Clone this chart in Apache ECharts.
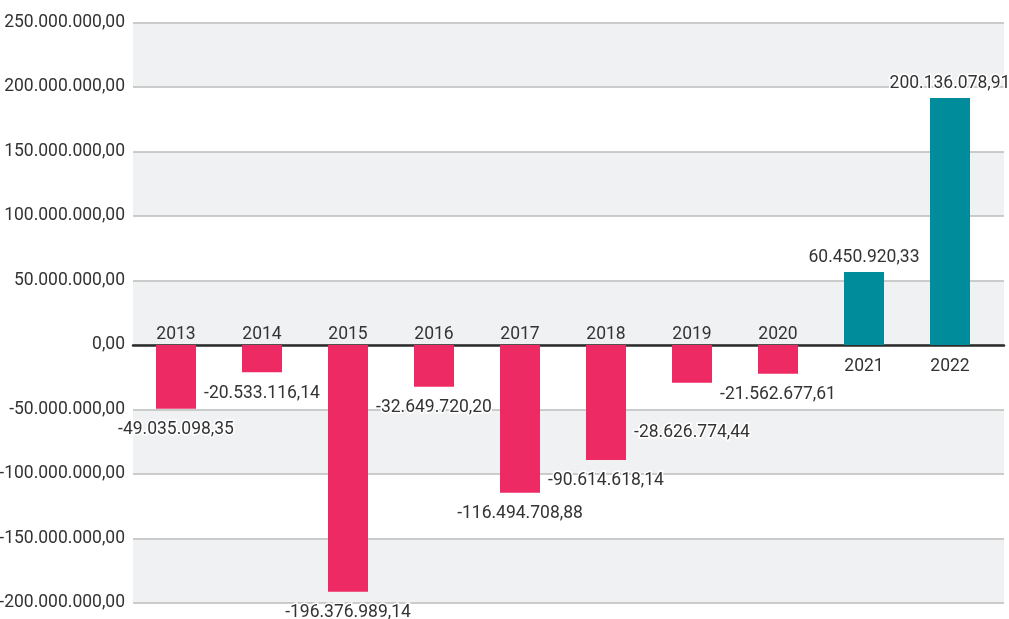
<!DOCTYPE html>
<html>
<head>
<meta charset="utf-8">
<script src="https://cdn.jsdelivr.net/npm/echarts@6/dist/echarts.min.js"></script>
<style>
  html, body { margin: 0; padding: 0; background: #fff; }
  #main { width: 1009px; height: 619px; }
</style>
</head>
<body>
<div id="main"></div>
<script>
// data
var years = ['2013', '2014', '2015', '2016', '2017', '2018', '2019', '2020', '2021', '2022'];
// bar heights as drawn
var values = [-49.4e6, -21.2e6, -191.2e6, -32.3e6, -114.5e6, -89.1e6, -29.2e6, -22.2e6, 56.6e6, 191.5e6];
// value labels as printed
var valueLabels = ['-49.035.098,35', '-20.533.116,14', '-196.376.989,14', '-32.649.720,20', '-116.494.708,88',
                   '-90.614.618,14', '-28.626.774,44', '-21.562.677,61', '60.450.920,33', '200.136.078,91'];
var yMin = -200e6, yMax = 250e6, yStep = 50e6;

var FONT = 'Roboto, sans-serif';
var FS = 17.5;
var TEXT = '#333';
var PINK = '#ee2a64', TEAL = '#008c9a';

function fmt(v) {
    var s = Math.abs(v).toFixed(0).replace(/\B(?=(\d{3})+(?!\d))/g, '.');
    return (v < 0 ? '-' : '') + s + ',00';
}

var barData = values.map(function (v, i) {
    var item = {
        value: v,
        itemStyle: { color: v < 0 ? PINK : TEAL },
        label: { formatter: valueLabels[i], distance: v < 0 ? 12 : 5.5 }
    };
    if (years[i] === '2019') item.label.distance = 41; // pushed lower in the original
    return item;
});

var yearData = years.map(function (y, i) {
    var neg = values[i] < 0;
    return {
        value: [i, 0],
        label: { position: neg ? 'top' : 'bottom', distance: neg ? 1 : 12.5 }
    };
});

var chart = echarts.init(document.getElementById('main'));
chart.setOption({
    animation: false,
    textStyle: { fontFamily: FONT },
    grid: [
        { left: 133, right: 5, top: 22.5, bottom: 16, outerBoundsMode: 'none' },   // background bands
        { left: 133, right: 16, top: 22.5, bottom: 16, outerBoundsMode: 'none' }   // bars
    ],
    xAxis: [
        {
            gridIndex: 0, type: 'value', min: 0, max: 1,
            axisLine: { show: true, onZero: true, lineStyle: { color: '#2b2b2b', width: 2.5 } },
            axisTick: { show: false }, axisLabel: { show: false }, splitLine: { show: false }
        },
        {
            gridIndex: 1, type: 'category', data: years, show: false
        }
    ],
    yAxis: [
        {
            gridIndex: 0, type: 'value', min: yMin, max: yMax, interval: yStep,
            axisLine: { show: false }, axisTick: { show: false },
            axisLabel: { formatter: fmt, color: TEXT, fontSize: FS, fontFamily: FONT, margin: 8 },
            splitLine: { lineStyle: { color: '#bdbdbd', width: 1.5 } },
            splitArea: { show: true, areaStyle: { color: ['#f0f1f3', '#ffffff'] } }
        },
        {
            gridIndex: 1, type: 'value', min: yMin, max: yMax, interval: yStep, show: false
        }
    ],
    series: [
        {
            type: 'bar',
            xAxisIndex: 1, yAxisIndex: 1,
            barWidth: 40,
            data: barData,
            label: {
                show: true, position: 'outside',
                color: TEXT, fontSize: FS, fontFamily: FONT,
                textBorderColor: '#fff', textBorderWidth: 3
            }
        },
        {
            type: 'scatter',
            xAxisIndex: 1, yAxisIndex: 1,
            symbolSize: 0,
            itemStyle: { opacity: 1 },
            data: yearData,
            label: {
                show: true, color: TEXT, fontSize: FS, fontFamily: FONT,
                formatter: function (p) { return years[p.dataIndex]; }
            },
            emphasis: { disabled: true },
            z: 5
        }
    ]
});
</script>
</body>
</html>
